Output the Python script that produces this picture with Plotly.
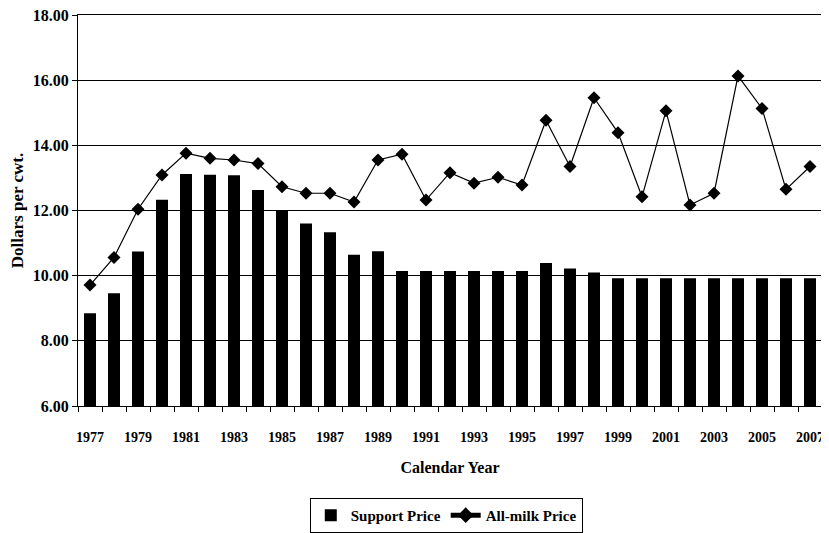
import plotly.graph_objects as go

years = list(range(1977, 2008))
support_price = [8.85, 9.46, 10.74, 12.33, 13.12, 13.10, 13.08, 12.63, 11.99, 11.60,
                 11.33, 10.64, 10.75, 10.14, 10.14, 10.14, 10.14, 10.14, 10.14, 10.39,
                 10.22, 10.10, 9.92, 9.92, 9.92, 9.92, 9.92, 9.92, 9.92, 9.92, 9.92]
all_milk_price = [9.71, 10.56, 12.04, 13.09, 13.76, 13.60, 13.55, 13.44, 12.73, 12.53,
                  12.53, 12.26, 13.55, 13.73, 12.32, 13.16, 12.84, 13.02, 12.78, 14.77,
                  13.35, 15.46, 14.39, 12.42, 15.06, 12.17, 12.53, 16.13, 15.13, 12.65, 13.35]
y_ticks = [6, 8, 10, 12, 14, 16, 18]
x_labels = list(range(1977, 2008, 2))

FONT = "Liberation Serif"

fig = go.Figure()
fig.add_trace(go.Bar(x=years, y=support_price, name="Support Price",
                     marker=dict(color="black", line=dict(width=0)), width=0.5))
fig.add_trace(go.Scatter(x=years, y=all_milk_price, name="All-milk Price", mode="lines+markers",
                         line=dict(color="black", width=1.2),
                         marker=dict(symbol="diamond", size=10, color="black")))

# the page body has an 8px margin, so the figure is sized to fit the 829x533 window
fig.update_layout(
    width=821, height=525,
    margin=dict(l=70, r=7, t=7, b=127, autoexpand=False),
    plot_bgcolor="white", paper_bgcolor="white",
    font=dict(family=FONT, color="black", size=14),
    showlegend=True,
    legend=dict(orientation="h", x=0.495, xanchor="center", y=-0.235, yanchor="top",
                bordercolor="black", borderwidth=1,
                font=dict(family=FONT, size=15, color="black", weight="bold"),
                itemsizing="constant", tracegroupgap=0, itemwidth=30),
    bargap=0.5,
)
fig.update_xaxes(
    range=[1976.5, 2007.5], automargin=False, ticklabeloverflow="allow",
    tickmode="array", tickvals=x_labels, ticktext=[str(v) for v in x_labels],
    ticks="outside", ticklen=18, tickcolor="white", tickwidth=1, showgrid=False,
    showline=True, linecolor="black", linewidth=1, mirror=True,
    tickfont=dict(family=FONT, size=14, weight="bold"),
    minor=dict(tickmode="linear", tick0=1976.5, dtick=1, ticks="outside", ticklen=5,
               tickcolor="black", showgrid=False),
    title=dict(text="Calendar Year", font=dict(family=FONT, size=16, weight="bold"), standoff=18),
)
fig.update_yaxes(
    range=[6, 18], automargin=False, ticklabeloverflow="allow",
    tickmode="array", tickvals=y_ticks, ticktext=[f"{v:.2f}" for v in y_ticks],
    ticks="outside", ticklen=5, tickcolor="black",
    showgrid=True, gridcolor="black", gridwidth=1,
    showline=True, linecolor="black", linewidth=1, mirror=True,
    tickfont=dict(family=FONT, size=16, weight="bold"),
    title=dict(text="Dollars per cwt.", font=dict(family=FONT, size=17, weight="bold"), standoff=4),
)

fig.write_html("out.html")
